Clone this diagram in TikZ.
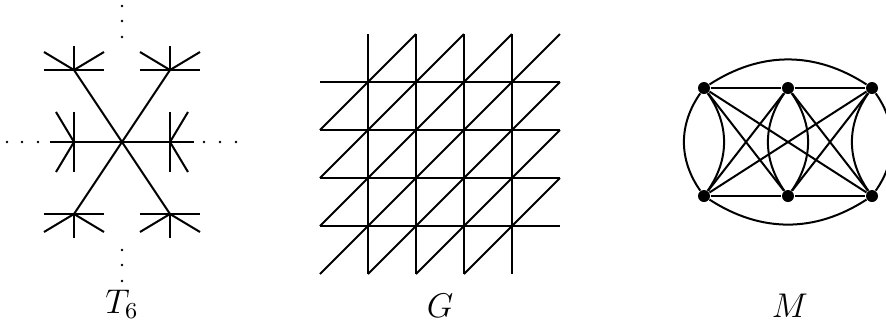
\documentclass[tikz,border=0pt]{standalone}
\usetikzlibrary{positioning}

\begin{document}
\begin{tikzpicture}[
    x=0.35pt,
    y=-0.35pt,
    edge/.style={
	line width=0.7pt
    },
    vertex/.style={
	circle,
	fill,
	inner sep=0pt,
	minimum size=4.2pt
    },
    label/.style={
	anchor=base,
	font=\large
    }
]
	\useasboundingbox (0,0) rectangle (886,326);

	% T_6
	\coordinate (c) at (122,142);
	\coordinate (ul) at (74,70);
	\coordinate (ur) at (170,70);
	\coordinate (l) at (74,142);
	\coordinate (r) at (170,142);
	\coordinate (ll) at (74,214);
	\coordinate (lr) at (170,214);

	\draw[edge] (ul) -- (c) -- (lr);
	\draw[edge] (ur) -- (c) -- (ll);
	\draw[edge] (l) -- (c) -- (r);

	\foreach \a/\b in {0/-24, -30/0, 30/0, -30/-18, 30/-18}{
	    \draw[edge] (ul) -- ++(\a,\b);
	    \draw[edge] (ur) -- ++(\a,\b);
	}
	\foreach \a/\b in {0/24, -30/0, 30/0, -30/18, 30/18}{
	    \draw[edge] (ll) -- ++(\a,\b);
	    \draw[edge] (lr) -- ++(\a,\b);
	}
	\foreach \a/\b in {0/-30, 0/30, -24/0, -18/-30, -18/30}
	    \draw[edge] (l) -- ++(\a,\b);
	\foreach \a/\b in {0/-30, 0/30, 24/0, 18/-30, 18/30}
	    \draw[edge] (r) -- ++(\a,\b);

	% dots
	\foreach \t in {6,21,37,250,265,281}
	    \fill (122,\t) circle[radius=0.45pt];
	\foreach \t in {7,22,38,204,220,236}
	    \fill (\t,142) circle[radius=0.45pt];

	\node[label] (tsix) at (122,313) {$T_6$};

	% G
	\foreach \i in {1,...,4}{
	    \draw[edge] ({320+48*\i},34) -- ({320+48*\i},274);
	    \draw[edge] (320,{274-48*\i}) -- (560,{274-48*\i});
	}
	\foreach \k in {-3,...,3}
	    \draw[edge] ({320+48*max(0,\k)},{274-48*max(0,-(\k))})
		-- ({320+48*min(5,5+\k)},{274-48*min(5,5-\k)});

	\node[label] (g) at (440,317) {$G$};

	% M
	\node[vertex] (tl) at (704,88) {};
	\node[vertex] (tm) at (788,88) {};
	\node[vertex] (tr) at (872,88) {};
	\node[vertex] (bl) at (704,196) {};
	\node[vertex] (bm) at (788,196) {};
	\node[vertex] (br) at (872,196) {};

	\draw[edge] (tl) -- (tm) -- (tr);
	\draw[edge] (bl) -- (bm) -- (br);
	\draw[edge] (tl) to[bend left=33] (tr);
	\draw[edge] (bl) to[bend right=33] (br);

	\foreach \u/\v in {tl/bm, tl/br, tm/bl, tm/br, tr/bl, tr/bm}
	    \draw[edge] (\u) -- (\v);
	\foreach \u/\v in {tl/bl, tm/bm, tr/br}{
	    \draw[edge] (\u) to[bend left=35] (\v);
	    \draw[edge] (\u) to[bend right=35] (\v);
	}

	\node[label] (m) at (790,317) {$M$};
\end{tikzpicture}
\end{document}
